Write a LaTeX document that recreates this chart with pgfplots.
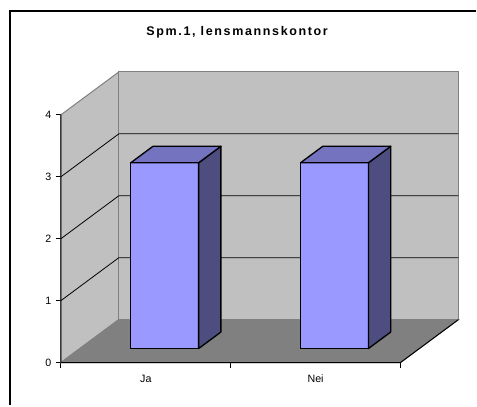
\documentclass[border=0pt]{standalone}
\usepackage{fontspec}
\setmainfont{Liberation Sans}
\newfontfamily\titlefont[LetterSpace=13]{Liberation Sans}
\usepackage{pgfplots}
\pgfplotsset{compat=1.18}
\definecolor{wallgray}{HTML}{C0C0C0}
\definecolor{floorgray}{HTML}{808080}
\definecolor{barfront}{HTML}{9999FF}
\definecolor{barside}{HTML}{4D4D80}
\definecolor{bartop}{HTML}{7373BF}

\begin{document}
\begin{tikzpicture}
\begin{axis}[
  x=127.5pt, y=46.5pt,
  xmin=0, xmax=2.3412, ymin=0, ymax=4.6935,
  axis lines*=left, axis line style={draw=none},
  clip=false,
  ytick={0,1,2,3,4}, xtick={0,1,2}, xticklabels={,,},
  extra x ticks={0.5,1.5}, extra x tick labels={Ja,Nei},
  extra x tick style={major tick length=0pt, xticklabel style={yshift=-6pt}},
  tick align=outside, major tick length=3.75pt,
  tick style={black, line width=0.75pt},
  ticklabel style={font=\fontsize{8}{9.6}\selectfont},
  /pgf/number format/assume math mode=true,
]
% walls and floor
\addplot[fill=wallgray, draw=floorgray, line width=0.75pt] coordinates {(0,0) (0,4) (0.3412,4.6935) (0.3412,0.6935)} -- cycle;
\addplot[fill=wallgray, draw=floorgray, line width=0.75pt] coordinates {(0.3412,0.6935) (2.3412,0.6935) (2.3412,4.6935) (0.3412,4.6935)} -- cycle;
\addplot[fill=floorgray, draw=floorgray, line width=0.75pt] coordinates {(0,0) (2,0) (2.3412,0.6935) (0.3412,0.6935)} -- cycle;
% gridlines
\addplot[black, line width=0.6pt] coordinates {(0,1) (0.3412,1.6935) (2.3412,1.6935)};
\addplot[black, line width=0.6pt] coordinates {(0,2) (0.3412,2.6935) (2.3412,2.6935)};
\addplot[black, line width=0.6pt] coordinates {(0,3) (0.3412,3.6935) (2.3412,3.6935)};
% axis edges
\addplot[black, line width=0.75pt] coordinates {(0,4) (0,0) (2,0) (2.3412,0.6935)};
% bar Ja (value 3)
\addplot[fill=barfront, draw=black, line width=1pt, line join=round] coordinates {(0.4112,0.2261) (0.8112,0.2261) (0.8112,3.2261) (0.4112,3.2261)} -- cycle;
\addplot[fill=barside, draw=black, line width=1pt, line join=round] coordinates {(0.8112,0.2261) (0.9423,0.4924) (0.9423,3.4924) (0.8112,3.2261)} -- cycle;
\addplot[fill=bartop, draw=black, line width=1pt, line join=round] coordinates {(0.4112,3.2261) (0.8112,3.2261) (0.9423,3.4924) (0.5423,3.4924)} -- cycle;
% bar Nei (value 3)
\addplot[fill=barfront, draw=black, line width=1pt, line join=round] coordinates {(1.4112,0.2261) (1.8112,0.2261) (1.8112,3.2261) (1.4112,3.2261)} -- cycle;
\addplot[fill=barside, draw=black, line width=1pt, line join=round] coordinates {(1.8112,0.2261) (1.9423,0.4924) (1.9423,3.4924) (1.8112,3.2261)} -- cycle;
\addplot[fill=bartop, draw=black, line width=1pt, line join=round] coordinates {(1.4112,3.2261) (1.8112,3.2261) (1.9423,3.4924) (1.5423,3.4924)} -- cycle;
% title and frame
\node[font=\titlefont\bfseries\fontsize{9.4}{11}\selectfont, anchor=base] at (axis cs:1.038,5.279) {Spm.1, lensmannskontor};
\draw[line width=0.9pt] (axis cs:2.4471,5.677) -- (axis cs:-0.3,5.677) -- (axis cs:-0.3,-0.6935);
\coordinate (bl) at (axis cs:-0.3588,-0.6935);
\coordinate (tr) at (axis cs:2.4471,5.8548);
\end{axis}
\path (bl) rectangle (tr);
\end{tikzpicture}
\end{document}
